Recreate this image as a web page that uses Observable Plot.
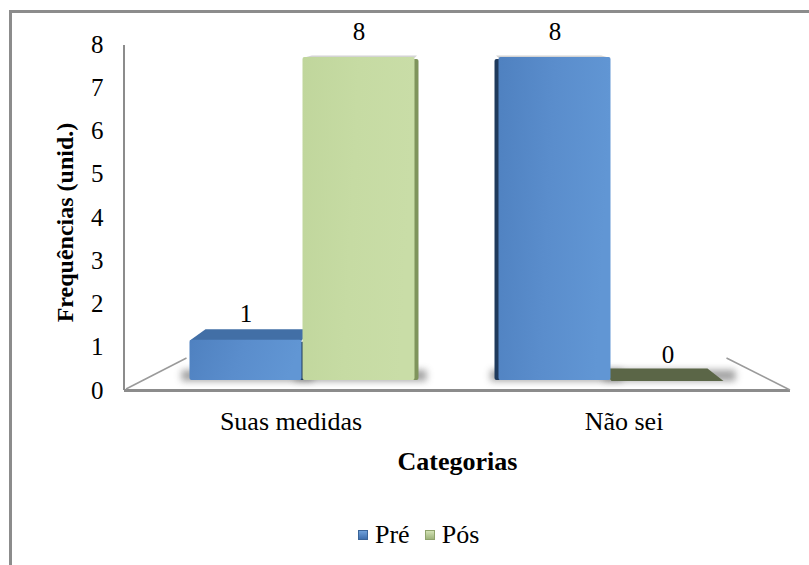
<!DOCTYPE html>
<html>
<head>
<meta charset="utf-8">
<script src="https://cdn.jsdelivr.net/npm/d3@7"></script>
<script src="https://cdn.jsdelivr.net/npm/@observablehq/plot@0.6"></script>
<style>
  html, body { margin: 0; padding: 0; background: #fff; }
  #wrap { position: relative; width: 809px; height: 565px; overflow: hidden; background: #fff; font-family: "Liberation Serif", "Times New Roman", Times, Tinos, "Noto Serif", "DejaVu Serif", FreeSerif, serif; }
  #wrap svg.layer { position: absolute; left: 0; top: 0; }
  #wrap svg text { font-family: "Liberation Serif", "Times New Roman", Times, Tinos, "Noto Serif", "DejaVu Serif", FreeSerif, serif; }
  #border { position: absolute; left: 9px; top: 10px; width: 900px; height: 700px; border: 3px solid #8c8c8c; pointer-events: none; }
  #legend { position: absolute; left: 358px; top: 520px; display: flex; align-items: center; font-size: 26px; color: #000; line-height: 30px; }
  .sw { width: 10px; height: 10px; display: inline-block; box-sizing: border-box; }
</style>
</head>
<body>
<div id="wrap">
  <svg width="0" height="0" style="position:absolute">
    <defs>
      <linearGradient id="gBlue" x1="0" y1="0" x2="1" y2="0.15">
        <stop offset="0" stop-color="#4f81c0"/>
        <stop offset="0.5" stop-color="#5a8dcc"/>
        <stop offset="1" stop-color="#6196d4"/>
      </linearGradient>
      <linearGradient id="gGreen" x1="0" y1="0" x2="1" y2="0.15">
        <stop offset="0" stop-color="#c0d69c"/>
        <stop offset="0.5" stop-color="#c6dba3"/>
        <stop offset="1" stop-color="#c9dda7"/>
      </linearGradient>
      <filter id="blur" x="-50%" y="-200%" width="200%" height="500%">
        <feGaussianBlur stdDeviation="3.5"/>
      </filter>
    </defs>
  </svg>
</div>
<script>
// ---- data ----
const categories = ["Suas medidas", "Não sei"];
const series = ["Pré", "Pós"];
const preValues = [1, 8];
const posValues = [8, 0];
const yTicks = [0, 1, 2, 3, 4, 5, 6, 7, 8];
const yTitle = "Frequências (unid.)";
const xTitle = "Categorias";

const rows = categories.flatMap((c, i) => [
  {cat: c, series: series[0], value: preValues[i]},
  {cat: c, series: series[1], value: posValues[i]}
]);

const FONT = "'Liberation Serif', 'Times New Roman', Times, Tinos, 'Noto Serif', 'DejaVu Serif', serif";
const wrap = document.getElementById("wrap");

// ---- layer 1: axes, labels, floor front edge ----
const p1 = Plot.plot({
  width: 809, height: 565,
  marginLeft: 124, marginRight: 19, marginTop: 44, marginBottom: 175,
  style: {background: "transparent", fontFamily: FONT, fontSize: "25px", color: "#000"},
  x: {type: "band", domain: categories, padding: 0, axis: null},
  y: {domain: [0, 8], axis: null},
  marks: [
    Plot.ruleY([0], {stroke: "#8c8c8c", strokeWidth: 3}),
    Plot.axisY(yTicks, {tickSize: 0, tickPadding: 21, fontSize: 25, fontFamily: FONT, fill: "#000", label: null}),
    Plot.text(categories, {x: d => d, frameAnchor: "bottom", dy: 31, lineAnchor: "middle", fontSize: 26, fontFamily: FONT, fill: "#000"}),
    Plot.text([xTitle], {frameAnchor: "bottom", dy: 71, lineAnchor: "middle", textAnchor: "middle", fontSize: 26, fontWeight: "bold", fontFamily: FONT, fill: "#000"}),
    Plot.text([yTitle], {frameAnchor: "left", dx: -59, dy: 5, rotate: -90, lineAnchor: "middle", textAnchor: "middle", fontSize: 24, fontWeight: "bold", fontFamily: FONT, fill: "#000"})
  ]
});
p1.classList.add("layer");
wrap.appendChild(p1);

// vertical axis line from the y scale
{
  const ys = p1.scale("y");
  d3.select(p1).append("line")
    .attr("x1", 124).attr("x2", 124)
    .attr("y1", ys.apply(8) + 1).attr("y2", ys.apply(0))
    .attr("stroke", "#8c8c8c").attr("stroke-width", 2);
}

// ---- layer 2: 3D-ish bars ----
const p2 = Plot.plot({
  width: 809, height: 565,
  marginLeft: 188, marginRight: 84, marginTop: 57, marginBottom: 185,
  style: {background: "transparent", fontFamily: FONT, color: "#000"},
  fx: {domain: categories, paddingInner: 0.264, paddingOuter: 0, axis: null, label: null},
  x: {domain: series, padding: 0, axis: null},
  y: {domain: [0, 8], axis: null},
  marks: [
    Plot.barY(rows.filter(d => d.series === series[0]), {fx: "cat", x: "series", y: "value", fill: "url(#gBlue)", insetLeft: 0.5, insetRight: 0.5, rx: 2}),
    Plot.barY(rows.filter(d => d.series === series[1]), {fx: "cat", x: "series", y: "value", fill: "url(#gGreen)", insetLeft: 0.5, insetRight: 0.5, rx: 2}),
    Plot.text(rows, {fx: "cat", x: "series", y: "value", text: d => String(d.value), dy: -26, lineAnchor: "middle", fontSize: 25, fontFamily: FONT, fill: "#000"})
  ]
});
p2.classList.add("layer");
wrap.appendChild(p2);

// decorations derived from the rendered bars
{
  const vx = (188 + 809 - 84) / 2;
  const bars = [];
  p2.querySelectorAll('g[aria-label="bar"] rect').forEach(r => {
    const f = (getComputedStyle(r).fill || "") + (r.getAttribute("fill") || "");
    let isBlue = f.includes("gBlue");
    if (!f.includes("gBlue") && !f.includes("gGreen")) {
      let n = r.parentNode;
      while (n && n !== p2) { const a = n.getAttribute && n.getAttribute("fill"); if (a) { isBlue = a.includes("gBlue"); break; } n = n.parentNode; }
    }
    const m = r.getCTM();
    const x = +r.getAttribute("x"), y = +r.getAttribute("y");
    const w = +r.getAttribute("width"), h = +r.getAttribute("height");
    const xl = m.e + x * m.a, yt = m.f + y * m.d;
    bars.push({xl, xr: xl + w * m.a, yt, yb: yt + h * m.d, isBlue});
  });
  const deco = d3.select(p2).insert("g", ":first-child");
  const shadows = deco.append("g");
  const sides = deco.append("g");
  const tops = deco.append("g");
  const k = 0.06;
  let minX = Infinity, maxX = -Infinity, baseY = 0;
  bars.forEach(b => {
    minX = Math.min(minX, b.xl); maxX = Math.max(maxX, b.xr); baseY = Math.max(baseY, b.yb);
    shadows.append("rect")
      .attr("x", b.xl - 8).attr("y", b.yb - 10).attr("width", b.xr - b.xl + 20).attr("height", 11)
      .attr("fill", "#555").attr("opacity", 0.55).attr("filter", "url(#blur)");
    const leftSide = (b.xl + b.xr) / 2 < vx;
    const hgt = b.yb - b.yt;
    if (hgt > 1) {
      const sx = leftSide ? b.xr - 2 : b.xl - 4;
      sides.append("rect")
        .attr("x", sx).attr("y", b.yt + 2).attr("width", 6).attr("height", hgt - 2)
        .attr("rx", 2)
        .attr("fill", b.isBlue ? "#1f3a5c" : "#7f945c");
    }
    const d = 0.031 * (b.yt - 57) + 1.5;
    const bxl = b.xl + k * (vx - b.xl), bxr = b.xr + k * (vx - b.xr);
    let col = b.isBlue ? "#426fa6" : "#5b6647";
    if (d < 3) col = "#d4d4d4";
    tops.append("polygon")
      .attr("points", [[b.xl, b.yt + 1], [b.xr, b.yt + 1], [bxr, b.yt - d], [bxl, b.yt - d]].map(p => p.join(",")).join(" "))
      .attr("fill", col);
  });
  if (bars.length) {
    const backY = baseY - 22;
    const frontY = p1.scale("y").apply(0);
    deco.append("line").attr("x1", 126).attr("y1", frontY - 1).attr("x2", minX - 3).attr("y2", backY)
      .attr("stroke", "#9a9a9a").attr("stroke-width", 1.5);
    deco.append("line").attr("x1", maxX + 3).attr("y1", backY).attr("x2", 790).attr("y2", frontY)
      .attr("stroke", "#9a9a9a").attr("stroke-width", 1.5);
  }
}

// ---- legend ----
const legend = document.createElement("div");
legend.id = "legend";
const swatch = [
  "background: linear-gradient(180deg,#6fa0da,#3f6fae); border:1px solid #3a6498;",
  "background: linear-gradient(180deg,#d2e2b4,#9fb47c); border:1px solid #8fa36c;"
];
series.forEach((s, i) => {
  const sw = document.createElement("span");
  sw.className = "sw";
  sw.style.cssText = swatch[i];
  const t = document.createElement("span");
  t.textContent = s;
  t.style.marginLeft = "7px";
  t.style.marginRight = i === 0 ? "15px" : "0";
  legend.appendChild(sw);
  legend.appendChild(t);
});
wrap.appendChild(legend);

const border = document.createElement("div");
border.id = "border";
wrap.appendChild(border);
</script>
</body>
</html>
